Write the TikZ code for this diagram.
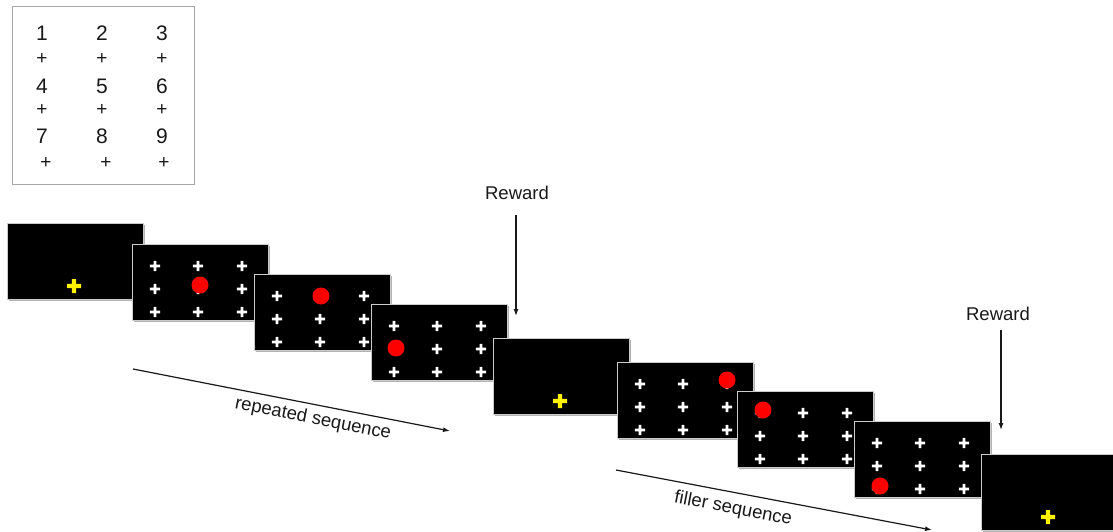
\documentclass[tikz,border=0pt]{standalone}
\usepackage{fontspec}
\setmainfont{Liberation Sans}
\usetikzlibrary{arrows.meta,calc}
\definecolor{dotred}{RGB}{255,0,0}
\definecolor{fixyellow}{RGB}{255,242,0}
\newcommand{\stimscr}[5]{%
  \node[screen] (#1) at (#2+68,#3+38) {};
  \foreach \dx in {23,66,110}{\foreach \dy in {22,45,68}{%
    \fill[white] ($(#1.north west)+(\dx,\dy)$) +(-5.2pt,-1.4pt) rectangle +(5.2pt,1.4pt) +(-1.4pt,-5.2pt) rectangle +(1.4pt,5.2pt);}}
  \fill[dotred] ($(#1.north west)+(#4,#5)$) circle (8.5pt);
}
\newcommand{\fixscr}[3]{%
  \node[screen] (#1) at (#2+68,#3+38) {};
  \fill[fixyellow] ($(#1.north west)+(67,63)$) +(-7pt,-2.2pt) rectangle +(7pt,2.2pt) +(-2.2pt,-7pt) rectangle +(2.2pt,7pt);
}
\begin{document}
\begin{tikzpicture}[x=1pt,y=-1pt,
  screen/.style={fill=black, draw=gray!40, line width=0.6pt, minimum width=136pt, minimum height=76pt,
    inner sep=0pt, outer sep=0pt, preaction={fill=gray!60, transform canvas={shift={(1.8pt,-2.4pt)}}}},
  lbl/.style={font=\fontsize{18.5}{20}\selectfont, text=black!90, inner sep=0pt},
  num/.style={font=\fontsize{21}{23}\selectfont, text=black!90, inner sep=0pt},
  pl/.style={font=\fontsize{19}{20}\selectfont, text=black!90, inner sep=0pt},
  arr/.style={draw=black!90, line width=1.2pt, -{Latex[length=7pt,width=5pt]}},
]
\useasboundingbox (0,0) rectangle (1113,532);
\fill[white] (0,0) rectangle (1113,532);

% legend box
\node[draw=gray!70, line width=0.8pt, minimum width=182pt, minimum height=178pt, inner sep=0pt] (legend) at (103,95) {};
\foreach \d/\x/\y in {1/42/33,2/102/33,3/162/33,4/42/86,5/102/86,6/162/86,7/42/136,8/102/136,9/162/136}
  \node[num] (n\d) at (\x,\y) {\d};
\foreach \i/\x/\y in {1/42/59,2/102/59,3/162/59,4/42/110,5/102/110,6/162/110,7/46/163,8/106/163,9/164/163}
  \node[pl] (p\i) at (\x,\y) {+};

% screens
\fixscr{s1}{7}{223}
\stimscr{s2}{132}{244}{68}{41}
\stimscr{s3}{254}{274}{67}{22}
\stimscr{s4}{371}{304}{25}{44}
\fixscr{s5}{493}{338}
\stimscr{s6}{617}{362}{110}{18}
\stimscr{s7}{737}{391}{26}{19}
\stimscr{s8}{854}{421}{26}{65}
\fixscr{s9}{981}{454}

% rewards
\node[lbl] (rw1) at (517,193) {Reward};
\coordinate (rt1) at (516,316);
\draw[arr, shorten <=15pt] (rw1.south -| rt1) -- (rt1);
\node[lbl] (rw2) at (998,314) {Reward};
\coordinate (rt2) at (1001,430);
\draw[arr, shorten <=9pt] (rw2.south -| rt2) -- (rt2);

% sequence arrows
\coordinate (rs1) at (133,369);
\coordinate (rs2) at (450,431);
\draw[arr] (rs1) -- (rs2);
\node[lbl, rotate=-11.1] (rep) at (313,419) {repeated sequence};
\coordinate (fs1) at (616,470);
\coordinate (fs2) at (932,530);
\draw[arr] (fs1) -- (fs2);
\node[lbl, rotate=-10.8] (fil) at (733,509) {filler sequence};
\end{tikzpicture}
\end{document}
